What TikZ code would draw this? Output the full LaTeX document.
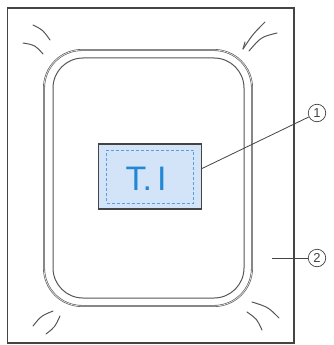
\documentclass[tikz,border=0pt]{standalone}
\usepackage{fontspec}
\setmainfont{Liberation Sans}
\definecolor{inkgray}{RGB}{68,68,68}
\definecolor{hoopgray}{RGB}{85,85,85}
\definecolor{labelfill}{RGB}{212,228,248}
\definecolor{stitchblue}{RGB}{90,158,222}
\definecolor{letterblue}{RGB}{34,136,212}
\tikzset{
  pullmark/.style={draw=hoopgray,line width=1pt,line cap=round},
  callout/.style={circle,draw=inkgray,line width=0.7pt,inner sep=0pt,minimum size=17.5pt,font=\fontsize{13}{15}\selectfont,text=inkgray},
  leader/.style={draw=inkgray,line width=0.8pt}
}
\begin{document}
\begin{tikzpicture}[x=1pt,y=-1pt]
\path[use as bounding box] (0,0) rectangle (333,345);
% fabric
\draw[draw=inkgray,line width=1.3pt] (7.5,8) rectangle (294,343);
% hoop
\draw[draw=hoopgray,line width=0.6pt,double=white!85!hoopgray,double distance=0.7pt,rounded corners=38pt] (44,50) rectangle (252,306);
\draw[draw=hoopgray,line width=1pt,rounded corners=30pt] (53,58) rectangle (244,298);
% pull marks
\draw[pullmark] (33,25) .. controls (43,30) .. (50,40);
\draw[pullmark] (23,43) .. controls (35,45) .. (43,54);
\draw[pullmark] (265,22) .. controls (253,34) .. (243,49);
\draw[pullmark] (243,49) -- (245,42);
\draw[pullmark] (277,33) .. controls (261,37) .. (249,51);
\draw[pullmark] (53,311) .. controls (41,316) .. (33,326);
\draw[pullmark] (60,316) .. controls (55,327) .. (46,334);
\draw[pullmark] (252,302) .. controls (268,307) .. (279,318);
\draw[pullmark] (247,312) .. controls (257,319) .. (262,330);
% label
\node[draw=inkgray,fill=labelfill,line width=1.1pt,minimum width=103pt,minimum height=65pt,inner sep=0pt] (label) at (150,176.5) {};
\node[draw=stitchblue,line width=0.8pt,dash pattern=on 3pt off 2pt,minimum width=87pt,minimum height=53pt,inner sep=0pt] (stitch) at (150,176.5) {};
\node[inner sep=0pt,anchor=base,text=letterblue,font=\fontsize{34}{40}\selectfont] (initials) at (146,190) {T.\kern5ptI};
% callouts
\node[callout] (one) at (317,113) {1};
\node[callout] (two) at (317,258) {2};
\coordinate (hoopside) at (272,258);
\draw[leader] ([yshift=8pt]label.east) -- (one);
\draw[leader] (hoopside) -- (two);
\end{tikzpicture}
\end{document}
